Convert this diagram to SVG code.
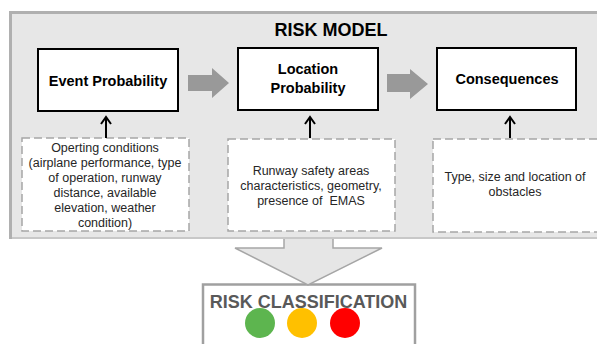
<svg xmlns="http://www.w3.org/2000/svg" width="597" height="344" viewBox="0 0 597 344">
<style>
.main{fill:#fff;stroke:#000;stroke-width:2}
.dash{fill:#fff;stroke:#a6a6a6;stroke-width:1.5;stroke-dasharray:8 4}
.t{font-family:"Liberation Sans",Arial,sans-serif;fill:#000}
.b{font-weight:bold;font-size:14.5px;text-anchor:middle}
.s{font-size:12.5px;text-anchor:middle;fill:#262626}
.blk{fill:#999;stroke:none}
.up{fill:none;stroke:#000;stroke-width:2}
.rc{font-family:"Liberation Sans",Arial,sans-serif;font-size:18px;font-weight:bold;text-anchor:middle;fill:#595959}
</style>
<rect width="597" height="344" fill="#fff"/>
<g id="frame">
<rect x="10.5" y="12.5" width="600" height="225.5" fill="#e7e7e7" stroke="#c8c8c8" stroke-width="2"/>
<path d="M10.5,239 V12.5 H600" fill="none" stroke="#b0b0b0" stroke-width="3"/>
<text class="t" x="331" y="36" font-size="18" font-weight="bold" text-anchor="middle">RISK MODEL</text>
</g>
<g id="event">
<rect class="main" x="38" y="49" width="140" height="62"/>
<text class="t b" x="108" y="86">Event Probability</text>
</g>
<g id="location">
<rect class="main" x="238" y="48" width="140" height="62"/>
<text class="t b" x="308" y="74">Location</text>
<text class="t b" x="308" y="93">Probability</text>
</g>
<g id="consequences">
<rect class="main" x="437" y="48" width="139" height="62"/>
<text class="t b" x="507" y="84">Consequences</text>
</g>
<g id="operating">
<rect class="dash" x="22" y="138" width="167" height="93"/>
<text class="t s" x="105" y="152">Operting conditions</text>
<text class="t s" x="105" y="167">(airplane performance, type</text>
<text class="t s" x="105" y="182">of operation, runway</text>
<text class="t s" x="105" y="197">distance, available</text>
<text class="t s" x="105" y="212">elevation, weather</text>
<text class="t s" x="105" y="227">condition)</text>
</g>
<g id="runway">
<rect class="dash" x="228" y="139" width="167" height="92"/>
<text class="t s" x="311" y="175">Runway safety areas</text>
<text class="t s" x="311" y="190">characteristics, geometry,</text>
<text class="t s" x="311" y="205" xml:space="preserve">presence of  EMAS</text>
</g>
<g id="obstacles">
<rect class="dash" x="433" y="139" width="170" height="93"/>
<text class="t s" x="515" y="181">Type, size and location of</text>
<text class="t s" x="515" y="196">obstacles</text>
</g>
<g id="classification">
<rect x="203" y="284.5" width="212" height="70" fill="#fff" stroke="#a0a0a0" stroke-width="2.5"/>
<text class="rc" x="308.5" y="308">RISK CLASSIFICATION</text>
<circle cx="260" cy="323" r="15" fill="#5db54f"/>
<circle cx="302" cy="323" r="15" fill="#ffc000"/>
<circle cx="345" cy="323" r="15" fill="#ff0000"/>
</g>
<g id="connectors">
<path class="blk" d="M188,75 H212 V68 L229,83 L212,98 V91 H188 Z"/>
<path class="blk" d="M387,74 H410 V69 L428,84 L410,99 V92 H387 Z"/>
<path class="up" d="M106,138 V118 M101,124 L106,117 L111,124"/>
<path class="up" d="M310,138 V118 M305,124 L310,117 L315,124"/>
<path class="up" d="M510,138 V118 M505,124 L510,117 L515,124"/>
<path d="M284,239 V248 H235 L308,285 L382,248 H333 V239" fill="#e6e6e6" stroke="#a6a6a6" stroke-width="1.5"/>
</g>
</svg>
